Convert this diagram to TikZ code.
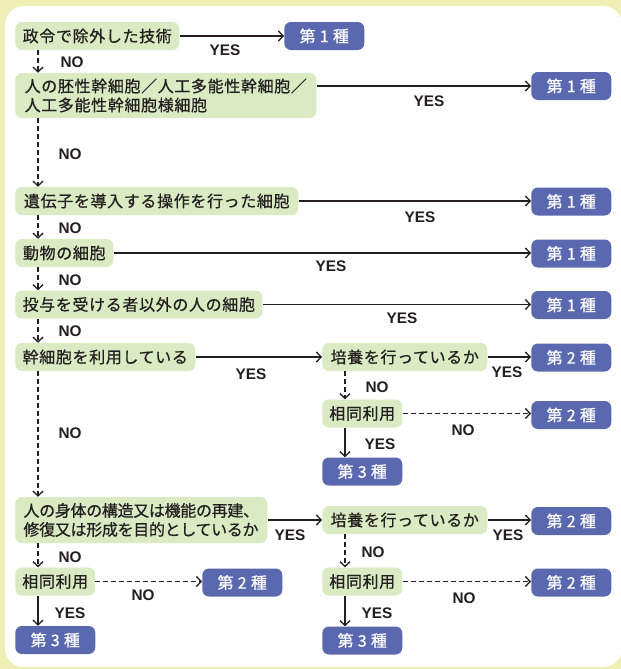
\documentclass[tikz,border=0pt]{standalone}
\usepackage{fontspec}
\newfontfamily\jp{Noto Sans CJK JP}[LetterSpace=4, FakeBold=0.6]
\newfontfamily\jpb{Noto Sans CJK JP Bold}[LetterSpace=4]
\newfontfamily\lat{Liberation Sans}
\usetikzlibrary{arrows.meta,calc}
\definecolor{framey}{RGB}{237,239,180}
\definecolor{gfill}{RGB}{218,234,194}
\definecolor{bfill}{RGB}{90,104,176}
\definecolor{ink}{RGB}{35,31,32}
\begin{document}
\begin{tikzpicture}[x=0.75pt,y=-0.75pt,
  gbox/.style={fill=gfill, rounded corners=5pt, minimum height=21pt, inner xsep=5.25pt, inner ysep=0pt, anchor=west, text=ink, font=\jp\fontsize{12}{14.25}\selectfont},
  bbox/.style={fill=bfill, rounded corners=5pt, minimum height=21pt, minimum width=60pt, inner sep=0pt, anchor=west, text=white, font=\jp\fontsize{12}{14}\selectfont},
  lab/.style={text=ink, inner sep=0pt, font=\lat\bfseries\fontsize{11.5}{12}\selectfont},
  conn/.style={draw=ink, line width=1pt, -{Straight Barb[length=3.5pt,width=7.5pt]}},
  dconn/.style={conn, dash pattern=on 3.75pt off 2.25pt}
]
\useasboundingbox (0,0) rectangle (621,669);
\fill[framey] (0,0) rectangle (621,669);
\fill[white, rounded corners=14pt] (5,6) rectangle (622,667);

% decision nodes
\node[gbox, minimum width=123pt] (n1) at (15,36) {政令で除外した技術};
\node[gbox, minimum width=225.75pt, minimum height=33.75pt, align=left] (n2) at (15,95.5) {人の胚性幹細胞／人工多能性幹細胞／\\人工多能性幹細胞様細胞};
\node[gbox, minimum width=212.25pt] (n3) at (15,201) {遺伝子を導入する操作を行った細胞};
\node[gbox, minimum width=73.5pt] (n4) at (15,253) {動物の細胞};
\node[gbox, minimum width=185.25pt] (n5) at (15,304.5) {投与を受ける者以外の人の細胞};
\node[gbox, minimum width=135pt] (n6) at (15,357) {幹細胞を利用している};
\node[gbox, minimum width=123.75pt] (n7) at (322,357) {培養を行っているか};
\node[gbox, minimum width=60pt] (n8) at (322,413.5) {相同利用};
\node[gbox, minimum width=189pt, minimum height=34.5pt, align=left, font=\jp\addfontfeatures{LetterSpace=-2}\fontsize{12}{14.25}\selectfont] (n10) at (15,520) {人の身体の構造又は機能の再建、\\修復又は形成を目的としているか};
\node[gbox, minimum width=123.75pt] (n11) at (322,520) {培養を行っているか};
\node[gbox, minimum width=60pt] (n12) at (322,581.5) {相同利用};
\node[gbox, minimum width=59.25pt] (n13) at (15,581.5) {相同利用};

% result nodes
\node[bbox] (b1) at (284,36) {第 1 種};
\node[bbox] (b2) at (531,86) {第 1 種};
\node[bbox] (b3) at (531,201.5) {第 1 種};
\node[bbox] (b4) at (531,253.5) {第 1 種};
\node[bbox] (b5) at (531,305) {第 1 種};
\node[bbox] (b6) at (531,357.5) {第 2 種};
\node[bbox] (b7) at (531,415) {第 2 種};
\node[bbox] (b8) at (322,471.5) {第 3 種};
\node[bbox] (b9) at (531,521) {第 2 種};
\node[bbox] (b10) at (531,582.5) {第 2 種};
\node[bbox] (b11) at (322,640.5) {第 3 種};
\node[bbox] (b12) at (202,582.5) {第 2 種};
\node[bbox] (b13) at (15,640) {第 3 種};

% YES connectors (horizontal)
\draw[conn] (n1.east) -- (b1.west |- n1.east);
\draw[conn] (n2.east |- b2.west) -- (b2.west);
\draw[conn] (n3.east) -- (b3.west |- n3.east);
\draw[conn] (n4.east) -- (b4.west |- n4.east);
\draw[conn] (n5.east) -- (b5.west |- n5.east);
\draw[conn] (n6.east) -- (n7.west);
\draw[conn] (n7.east) -- (b6.west |- n7.east);
\draw[conn] (n10.east) -- (n11.west);
\draw[conn] (n11.east) -- (b9.west |- n11.east);

% NO connectors (horizontal, dashed)
\draw[dconn] (n8.east) -- (b7.west |- n8.east);
\draw[dconn] (n12.east) -- (b10.west |- n12.east);
\draw[dconn] (n13.east) -- (b12.west |- n13.east);

% NO connectors (vertical, dashed)
\draw[dconn] ($(n1.south west)+(23,0)$) -- ($(n2.north west)+(23,0)$);
\draw[dconn] ($(n2.south west)+(23,0)$) -- ($(n3.north west)+(23,0)$);
\draw[dconn] ($(n3.south west)+(23,0)$) -- ($(n4.north west)+(23,0)$);
\draw[dconn] ($(n4.south west)+(23,0)$) -- ($(n5.north west)+(23,0)$);
\draw[dconn] ($(n5.south west)+(23,0)$) -- ($(n6.north west)+(23,0)$);
\draw[dconn] ($(n6.south west)+(23,0)$) -- ($(n10.north west)+(23,0)$);
\draw[dconn] ($(n7.south west)+(23,0)$) -- ($(n8.north west)+(23,0)$);
\draw[dconn] ($(n11.south west)+(23,0)$) -- ($(n12.north west)+(23,0)$);
\draw[dconn] ($(n10.south west)+(23,0)$) -- ($(n13.north west)+(23,0)$);

% YES connectors (vertical)
\draw[conn] ($(n8.south west)+(23,0)$) -- ($(b8.north west)+(23,0)$);
\draw[conn] ($(n12.south west)+(23,0)$) -- ($(b11.north west)+(23,0)$);
\draw[conn] ($(n13.south west)+(23,0)$) -- ($(b13.north west)+(23,0)$);

% labels
\node[lab] (y1) at (225,50) {YES};
\node[lab] (o1) at (72,62) {NO};
\node[lab] (y2) at (429,101) {YES};
\node[lab] (o2) at (70,154) {NO};
\node[lab] (y3) at (420,217) {YES};
\node[lab] (o3) at (70,228) {NO};
\node[lab] (y4) at (331,266) {YES};
\node[lab] (o4) at (70,280) {NO};
\node[lab] (y5) at (402,318) {YES};
\node[lab] (o5) at (70,331) {NO};
\node[lab] (y6) at (251,374) {YES};
\node[lab] (y7) at (507,372) {YES};
\node[lab] (o6) at (377,387) {NO};
\node[lab] (o7) at (463,430) {NO};
\node[lab] (y8) at (380,444) {YES};
\node[lab] (o8) at (70,433) {NO};
\node[lab] (y9) at (290,535) {YES};
\node[lab] (y10) at (508,535) {YES};
\node[lab] (o9) at (373,552) {NO};
\node[lab] (o10) at (464,598) {NO};
\node[lab] (y11) at (377,613) {YES};
\node[lab] (o11) at (70,557) {NO};
\node[lab] (o12) at (143,595) {NO};
\node[lab] (y12) at (70,613) {YES};
\end{tikzpicture}
\end{document}
